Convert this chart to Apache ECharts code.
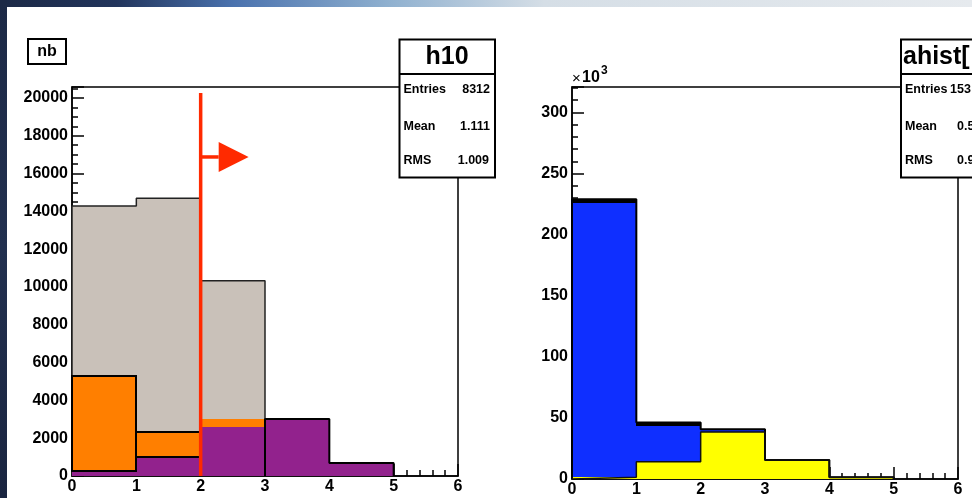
<!DOCTYPE html>
<html>
<head>
<meta charset="utf-8">
<script src="https://cdn.jsdelivr.net/npm/echarts/dist/echarts.min.js"></script>
<style>
html,body{margin:0;padding:0;width:972px;height:498px;overflow:hidden;background:#1b2744;}
#bgtop{position:absolute;left:0;top:0;width:972px;height:7px;background:linear-gradient(to right,#1c2946 0%,#22355c 12%,#4a72ae 24%,#8fb0cf 40%,#d5dee6 56%,#e6eaee 100%);}
#bgleft{position:absolute;left:0;top:0;width:7px;height:498px;background:linear-gradient(to bottom,#1c2946,#22304f 50%,#1a2540);}
#paper{position:absolute;left:7px;top:7px;width:965px;height:491px;background:#fff;}
#chart{position:absolute;left:0;top:0;width:972px;height:498px;}
</style>
</head>
<body>
<div id="bgtop"></div><div id="bgleft"></div><div id="paper"></div>
<div id="chart"></div>
<script>
// ---------------- data ----------------
const binEdges = [0, 1, 2, 3, 4, 5, 6];
const xTickLabels = ['0', '1', '2', '3', '4', '5', '6'];

// left pad ("nb", histogram h10)
const nbGray   = [14290, 14690, 10330, 0, 0, 0];
const nbPurple = [270, 1000, 2610, 3020, 690, 0];
const nbOrange = [5040, 1350, 410, 0, 0, 0];     // stacked on purple
const nbYTickLabels = ['0','2000','4000','6000','8000','10000','12000','14000','16000','18000','20000'];
const nbCutX = 2;
const nbCutLineTop = 20270;
const nbArrowY = 16880;
const nbArrowBaseX = 2.28;
const nbArrowTipX = 2.745;

// right pad ("ahist", units of 10^3)
const ahYellow = [1.5, 14.2, 38.5, 15.5, 1.5, 0];
const ahBlue   = [224.5, 29.4, 2.2, 0, 0, 0];     // stacked on yellow
const ahBlack  = [3.0, 2.6, 0, 0, 0, 0];          // stacked on blue
const ahYTickLabels = ['0','50','100','150','200','250','300'];

// stats boxes
const statLabels = ['Entries', 'Mean', 'RMS'];
const h10Values = ['8312', '1.111', '1.009'];
const ahistValues = ['153', '0.5', '0.9'];

// ---------------- helpers ----------------
const FONT = '"Liberation Sans", Arial, Helvetica, sans-serif';

function stackTops(bottoms, vals) { return vals.map((v, i) => bottoms[i] + v); }

function binRects(bottoms, tops) {
  const out = [];
  tops.forEach((t, i) => { if (t > bottoms[i]) out.push([binEdges[i], binEdges[i + 1], bottoms[i], t, i]); });
  return out;
}

function rectSeries(g, data, fill, strokeFn, z) {
  return {
    type: 'custom', xAxisIndex: g, yAxisIndex: g, z: z, data: data, silent: true,
    encode: { x: [0, 1], y: [2, 3] },
    renderItem: function (params, api) {
      const a = api.coord([api.value(0), api.value(3)]);
      const b = api.coord([api.value(1), api.value(2)]);
      const x0 = Math.round(a[0]), x1 = Math.round(b[0]);
      const y0 = Math.round(a[1]), y1 = Math.round(b[1]);
      const s = strokeFn ? strokeFn(api.value(4)) : null;
      return {
        type: 'rect',
        shape: { x: x0, y: y0, width: x1 - x0, height: y1 - y0 },
        style: s ? { fill: fill, stroke: '#000', lineWidth: 2 } : { fill: fill }
      };
    }
  };
}

function outlineSeries(g, vals, from, to, color, width, z) {
  const pts = [[binEdges[from], 0]];
  for (let i = from; i < to; i++) pts.push([binEdges[i], vals[i]]);
  pts.push([binEdges[to], 0]);
  return {
    type: 'line', xAxisIndex: g, yAxisIndex: g, data: pts, step: 'end', symbol: 'none',
    lineStyle: { color: color, width: width }, z: z, silent: true
  };
}

const zeros = binEdges.slice(1).map(() => 0);
const nbPurpleTop = stackTops(zeros, nbPurple);
const nbOrangeTop = stackTops(nbPurpleTop, nbOrange);
const ahYellowTop = stackTops(zeros, ahYellow);
const ahBlueTop = stackTops(ahYellowTop, ahBlue);
const ahBlackTop = stackTops(ahBlueTop, ahBlack);

function xAxisCfg(g) {
  return {
    type: 'value', gridIndex: g, min: 0, max: 6, interval: 1,
    axisLine: { onZero: false, lineStyle: { color: '#000', width: 1.5 } },
    axisTick: { inside: true, length: 12, lineStyle: { color: '#000', width: 1.5 } },
    minorTick: { show: true, splitNumber: 5, length: 6, lineStyle: { color: '#000', width: 1.5 } },
    splitLine: { show: false },
    axisLabel: { fontFamily: FONT, fontWeight: 'bold', fontSize: 16, color: '#000', margin: 3,
      formatter: v => { const i = binEdges.indexOf(v); return i >= 0 ? xTickLabels[i] : ''; } }
  };
}
function yAxisCfg(g, max, interval, minorSplit, labels) {
  return {
    type: 'value', gridIndex: g, min: 0, max: max, interval: interval,
    axisLine: { onZero: false, lineStyle: { color: '#000', width: 1.5 } },
    axisTick: { inside: true, length: 12, lineStyle: { color: '#000', width: 1.5 } },
    minorTick: { show: true, splitNumber: minorSplit, length: 6, lineStyle: { color: '#000', width: 1.5 } },
    splitLine: { show: false },
    axisLabel: { fontFamily: FONT, fontWeight: 'bold', fontSize: 16, color: '#000', margin: 4, showMaxLabel: false,
      formatter: v => labels.indexOf(String(v)) >= 0 ? String(v) : '' }
  };
}

function txt(x, y, text, size, align, bold) {
  return { type: 'text', x: x, y: y, z: 101,
    style: { text: text, fontSize: size, fontFamily: FONT, fontWeight: bold ? 'bold' : 'normal',
      fill: '#000', align: align, verticalAlign: 'middle' } };
}
function statsBox(x, w, title, titleX, titleAlign, values, valX, valAlign) {
  const els = [
    { type: 'rect', z: 100, shape: { x: x, y: 39.5, width: w, height: 138 }, style: { fill: '#fff', stroke: '#000', lineWidth: 2 } },
    { type: 'line', z: 100, shape: { x1: x, y1: 74, x2: x + w, y2: 74 }, style: { stroke: '#000', lineWidth: 2 } },
    txt(titleX, 57, title, 25, titleAlign, true)
  ];
  const rowsY = [90, 126.5, 161];
  statLabels.forEach((l, i) => {
    els.push(txt(x + 4, rowsY[i], l, 12.5, 'left', true));
    els.push(txt(valX[i], rowsY[i], values[i], 12.5, valAlign, true));
  });
  return els;
}

// ---------------- chart ----------------
const chart = echarts.init(document.getElementById('chart'), null, { renderer: 'canvas' });

const graphics = [].concat(
  [
    { type: 'rect', z: 100, shape: { x: 28, y: 39, width: 38, height: 25 }, style: { fill: '#fff', stroke: '#000', lineWidth: 2 } },
    txt(47, 51.5, 'nb', 16, 'center', true)
  ],
  statsBox(399.5, 95.5, 'h10', 447, 'center', h10Values, [490, 490, 489], 'right'),
  statsBox(901, 100, 'ahist[', 903, 'left', ahistValues, [950, 957, 957], 'left'),
  [
    { type: 'text', x: 572, y: 78.5, z: 101, style: { text: '\u00d7', fontSize: 15, fontFamily: FONT, fill: '#000', align: 'left', verticalAlign: 'middle' } },
    { type: 'text', x: 582, y: 77.5, z: 101, style: { text: '10', fontSize: 16, fontWeight: 'bold', fontFamily: FONT, fill: '#000', align: 'left', verticalAlign: 'middle' } },
    { type: 'text', x: 601, y: 71, z: 101, style: { text: '3', fontSize: 12, fontWeight: 'bold', fontFamily: FONT, fill: '#000', align: 'left', verticalAlign: 'middle' } }
  ]
);

const RED = '#ff2a00';

chart.setOption({
  animation: false,
  backgroundColor: 'transparent',
  grid: [
    { left: 72, top: 87, width: 386, height: 389, show: true, borderColor: '#000', borderWidth: 1.5, backgroundColor: 'transparent' },
    { left: 572, top: 87, width: 386, height: 392, show: true, borderColor: '#000', borderWidth: 1.5, backgroundColor: 'transparent' }
  ],
  xAxis: [xAxisCfg(0), xAxisCfg(1)],
  yAxis: [yAxisCfg(0, 20582, 2000, 4, nbYTickLabels), yAxisCfg(1, 320.8, 50, 5, ahYTickLabels)],
  graphic: graphics,
  series: [
    // left pad
    rectSeries(0, binRects(zeros, nbGray), '#c9c1b9', null, 2),
    outlineSeries(0, nbGray, 0, 3, '#222', 1.5, 3),
    rectSeries(0, binRects(zeros, nbPurpleTop), '#92228d', null, 4),
    rectSeries(0, binRects(nbPurpleTop, nbOrangeTop), '#ff7f00', i => i < 2, 5),
    outlineSeries(0, nbPurpleTop, 3, 5, '#000', 2, 6),
    {
      type: 'custom', xAxisIndex: 0, yAxisIndex: 0, z: 8, silent: true, clip: false,
      data: [[nbCutX, nbCutLineTop, nbArrowY, nbArrowBaseX, nbArrowTipX]],
      encode: { x: 0, y: 1 },
      renderItem: function (params, api) {
        const bottom = api.coord([api.value(0), 0]);
        const top = api.coord([api.value(0), api.value(1)]);
        const base = api.coord([api.value(3), api.value(2)]);
        const tip = api.coord([api.value(4), api.value(2)]);
        const h = 15;
        return { type: 'group', children: [
          { type: 'line', shape: { x1: bottom[0], y1: bottom[1], x2: top[0], y2: top[1] }, style: { stroke: RED, lineWidth: 3.5 } },
          { type: 'line', shape: { x1: bottom[0], y1: base[1], x2: base[0], y2: base[1] }, style: { stroke: RED, lineWidth: 3.5 } },
          { type: 'polygon', shape: { points: [[base[0], base[1] - h], [tip[0], tip[1]], [base[0], base[1] + h]] }, style: { fill: RED } }
        ] };
      }
    },
    // right pad
    rectSeries(1, binRects(zeros, ahYellowTop), '#ffff00', null, 2),
    rectSeries(1, binRects(ahYellowTop, ahBlueTop), '#0f2fff', null, 3),
    rectSeries(1, binRects(ahBlueTop, ahBlackTop), '#000000', null, 4),
    outlineSeries(1, ahBlackTop, 0, 5, '#000', 2, 5),
    outlineSeries(1, ahYellowTop, 0, 5, '#111', 1.5, 6)
  ]
});
</script>
</body>
</html>
